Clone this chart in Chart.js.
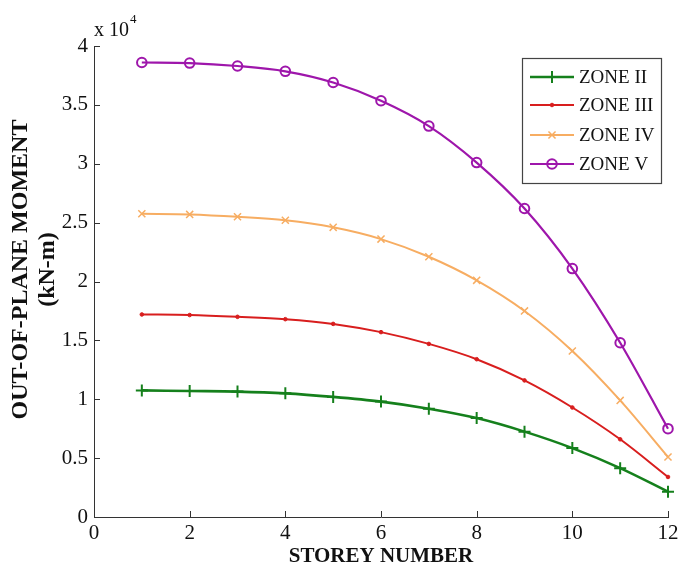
<!DOCTYPE html>
<html>
<head>
<meta charset="utf-8">
<script src="https://cdn.jsdelivr.net/npm/chart.js@4.4.1/dist/chart.umd.min.js"></script>
<style>
  html, body { margin: 0; padding: 0; background: #fff; }
  #wrap { width: 684px; height: 571px; position: relative; }
</style>
</head>
<body>
<div id="wrap"><canvas id="momentChart"></canvas></div>
<script>
// storey numbers (x axis)
const storeys = [1, 2, 3, 4, 5, 6, 7, 8, 9, 10, 11, 12];

// out-of-plane moment, x 10^4 kN-m
const zone2 = [1.075, 1.07, 1.065, 1.05, 1.02, 0.98, 0.92, 0.84, 0.725, 0.585, 0.415, 0.215];
const zone3 = [1.72, 1.715, 1.70, 1.68, 1.64, 1.57, 1.47, 1.34, 1.16, 0.93, 0.66, 0.34];
const zone4 = [2.575, 2.57, 2.55, 2.52, 2.46, 2.36, 2.21, 2.01, 1.75, 1.41, 0.99, 0.51];
const zone5 = [3.86, 3.855, 3.83, 3.785, 3.69, 3.535, 3.32, 3.01, 2.62, 2.11, 1.48, 0.75];

const seriesNames = ['ZONE II', 'ZONE III', 'ZONE IV', 'ZONE V'];
const xTicks = [0, 2, 4, 6, 8, 10, 12];
const yTicks = [0, 0.5, 1, 1.5, 2, 2.5, 3, 3.5, 4];

const SERIF = '"Liberation Serif", "DejaVu Serif", serif';

function pts(values) {
    return storeys.map((s, i) => ({ x: s, y: values[i] }));
}

const styles = [
    { color: '#15801c', width: 2.6, point: 'cross', radius: 6, pw: 2 },
    { color: '#d81e1e', width: 2, point: 'circle', radius: 1.8, pw: 1 },
    { color: '#f7ad62', width: 2, point: 'crossRot', radius: 5, pw: 1.5 },
    { color: '#9e16ab', width: 2.2, point: 'circle', radius: 4.8, pw: 2 }
];

const datasets = [zone2, zone3, zone4, zone5].map((vals, i) => ({
    label: seriesNames[i],
    data: pts(vals),
    borderColor: styles[i].color,
    backgroundColor: i === 1 ? styles[i].color : 'rgba(0,0,0,0)',
    borderWidth: styles[i].width,
    pointStyle: styles[i].point,
    pointRadius: styles[i].radius,
    pointBorderWidth: styles[i].pw,
    pointBorderColor: styles[i].color,
    pointBackgroundColor: i === 1 ? styles[i].color : 'rgba(0,0,0,0)',
    cubicInterpolationMode: 'monotone',
    clip: false,
    fill: false
}));

// inward ticks, "x 10^4" note and boxed legend, drawn like the MATLAB figure
const figureExtras = {
    id: 'figureExtras',
    afterDraw(chart) {
        const ctx = chart.ctx;
        const xs = chart.scales.x, ys = chart.scales.y;
        const area = chart.chartArea;
        ctx.save();
        ctx.strokeStyle = '#333';
        ctx.lineWidth = 1;
        ctx.beginPath();
        xTicks.forEach(v => {
            const px = Math.round(xs.getPixelForValue(v)) + 0.5;
            ctx.moveTo(px, area.bottom);
            ctx.lineTo(px, area.bottom - 6);
        });
        yTicks.forEach(v => {
            const py = Math.round(ys.getPixelForValue(v)) + 0.5;
            ctx.moveTo(area.left, py);
            ctx.lineTo(area.left + 6, py);
        });
        ctx.stroke();

        // exponent label
        ctx.fillStyle = '#111';
        ctx.textBaseline = 'alphabetic';
        ctx.textAlign = 'left';
        ctx.font = '20px ' + SERIF;
        ctx.fillText('x 10', area.left, area.top - 10);
        ctx.font = '13px ' + SERIF;
        ctx.fillText('4', area.left + 36, area.top - 23);

        // legend
        const box = { x: 522.5, y: 58.5, w: 139, h: 125 };
        ctx.fillStyle = '#fff';
        ctx.fillRect(box.x, box.y, box.w, box.h);
        ctx.strokeStyle = '#444';
        ctx.lineWidth = 1.2;
        ctx.strokeRect(box.x, box.y, box.w, box.h);
        const rows = [77, 105, 135, 164];
        ctx.font = '19px ' + SERIF;
        ctx.textBaseline = 'middle';
        chart.data.datasets.forEach((ds, i) => {
            const y = rows[i];
            ctx.strokeStyle = ds.borderColor;
            ctx.lineWidth = ds.borderWidth;
            ctx.beginPath();
            ctx.moveTo(530, y);
            ctx.lineTo(574, y);
            ctx.stroke();
            ctx.fillStyle = ds.pointBackgroundColor;
            ctx.strokeStyle = ds.pointBorderColor;
            ctx.lineWidth = ds.pointBorderWidth;
            Chart.helpers.drawPoint(ctx, {
                pointStyle: ds.pointStyle,
                radius: ds.pointRadius,
                borderWidth: ds.pointBorderWidth
            }, 552, y);
            ctx.fillStyle = '#111';
            ctx.fillText(ds.label, 579, y + 1);
        });
        ctx.restore();
    }
};

new Chart(document.getElementById('momentChart'), {
    type: 'line',
    data: { datasets },
    options: {
        responsive: true,
        maintainAspectRatio: false,
        animation: false,
        layout: { padding: { top: 46, right: 16, left: 0, bottom: 0 } },
        plugins: {
            legend: { display: false },
            tooltip: { enabled: false }
        },
        scales: {
            x: {
                type: 'linear',
                min: 0,
                max: 12,
                afterBuildTicks: s => { s.ticks = xTicks.map(v => ({ value: v })); },
                grid: { display: false, drawTicks: false },
                border: { display: true, color: '#333', width: 1 },
                ticks: {
                    color: '#111',
                    padding: 4,
                    font: { family: SERIF, size: 21 },
                    callback: v => String(v)
                },
                title: {
                    display: true,
                    text: 'STOREY NUMBER',
                    color: '#111',
                    padding: { top: 0, bottom: 2 },
                    font: { family: SERIF, size: 21, weight: 'bold' }
                },
                afterFit: s => { s.height = 54; }
            },
            y: {
                type: 'linear',
                min: 0,
                max: 4,
                afterBuildTicks: s => { s.ticks = yTicks.map(v => ({ value: v })); },
                grid: { display: false, drawTicks: false },
                border: { display: true, color: '#333', width: 1 },
                ticks: {
                    color: '#111',
                    padding: 6,
                    font: { family: SERIF, size: 21 },
                    callback: v => String(v)
                },
                title: {
                    display: true,
                    // leading spaces nudge the rotated title up, as in the figure
                    text: ['    OUT-OF-PLANE MOMENT', '    (kN-m)'],
                    color: '#111',
                    padding: { top: 8, bottom: 0 },
                    font: { family: SERIF, size: 24, weight: 'bold', lineHeight: 1.1 }
                },
                afterFit: s => { s.width = 94; }
            }
        }
    },
    plugins: [figureExtras]
});
</script>
</body>
</html>
